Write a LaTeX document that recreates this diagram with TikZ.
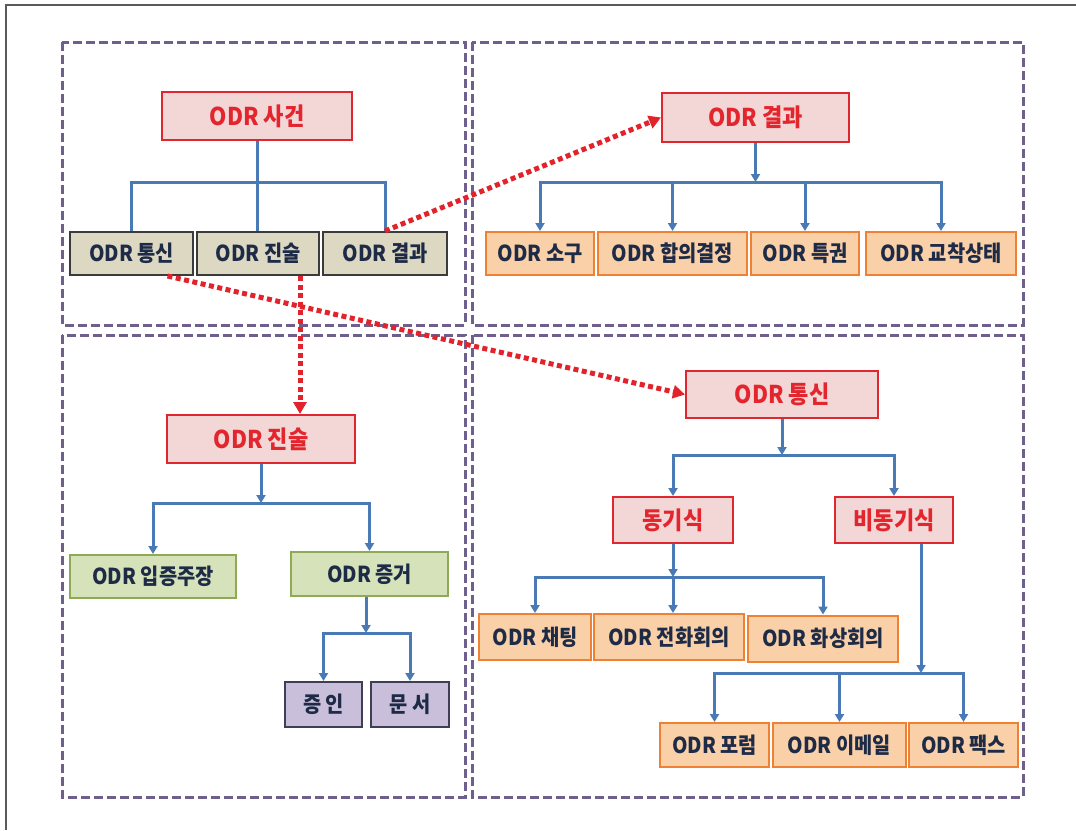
\documentclass[tikz,border=0pt]{standalone}
\usepackage{fontspec}
\setmainfont{Noto Sans CJK KR}[FakeStretch=0.9]
\usetikzlibrary{arrows.meta}
\definecolor{frameline}{HTML}{5A5A5A}
\definecolor{panelline}{HTML}{6E5F8C}
\definecolor{redfill}{HTML}{F3D6D6}
\definecolor{redline}{HTML}{E0262E}
\definecolor{redtext}{HTML}{E3262E}
\definecolor{grayfill}{HTML}{DCD8C2}
\definecolor{grayline}{HTML}{3B3B3B}
\definecolor{orangefill}{HTML}{FAD0A8}
\definecolor{orangeline}{HTML}{EE8133}
\definecolor{greenfill}{HTML}{D6E3BA}
\definecolor{greenline}{HTML}{8FAA55}
\definecolor{purplefill}{HTML}{C9BFDA}
\definecolor{purpleline}{HTML}{3E3E55}
\definecolor{textdark}{HTML}{1E2B47}
\definecolor{blueline}{HTML}{4A7AB5}
\definecolor{dotred}{HTML}{E2232B}
\tikzset{
  base/.style={draw, line width=2pt, inner sep=0pt, text=textdark,
    font=\fontsize{22}{26}\selectfont\bfseries},
  redbox/.style={base, fill=redfill, draw=redline, text=redtext,
    font=\fontsize{24.5}{28}\selectfont\bfseries},
  graybox/.style={base, fill=grayfill, draw=grayline},
  orangebox/.style={base, fill=orangefill, draw=orangeline},
  greenbox/.style={base, fill=greenfill, draw=greenline},
  purplebox/.style={base, fill=purplefill, draw=purpleline},
  panel/.style={draw=panelline, line width=3pt, dash pattern=on 9pt off 4pt},
  tree/.style={draw=blueline, line width=3pt},
  bar/.style={tree, line cap=rect},
  arr/.style={tree, -{Triangle[length=8pt,width=9pt]}},
  dotarr/.style={draw=dotred, line width=5pt, dash pattern=on 5pt off 3.5pt,
    -{Triangle[length=12pt,width=13pt]}},
}
\begin{document}
\begin{tikzpicture}[x=1pt,y=-1pt]
\useasboundingbox (0,0) rectangle (1076,830);
\fill[white] (0,0) rectangle (1076,830);
% outer frame
\draw[frameline, line width=1.5pt] (6,830) -- (6,5) -- (1076,5);

% four dashed panels
\draw[panel] (62,42) rectangle (465,325);
\draw[panel] (472,42) rectangle (1023,325);
\draw[panel] (62,335) rectangle (465,797);
\draw[panel] (472,335) rectangle (1023,797);

% ---- top left: ODR case ----
\node[redbox, minimum width=190pt, minimum height=48pt] (s0) at (257,116) {ODR 사건};
\node[graybox, minimum width=123pt, minimum height=43pt] (g1) at (131.5,253.5) {ODR 통신};
\node[graybox, minimum width=122pt, minimum height=43pt] (g2) at (258,253.5) {ODR 진술};
\node[graybox, minimum width=124pt, minimum height=43pt] (g3) at (385,253.5) {ODR 결과};
\coordinate (tlbar) at (0,182);
\draw[tree] (g1.north) -- (g1.north |- tlbar) -- (g3.north |- tlbar) -- (g3.north);
\draw[tree] (s0.south) -- (s0.south |- g2.north);

% ---- top right: ODR result ----
\node[redbox, minimum width=187pt, minimum height=49pt] (r1) at (755.5,117.5) {ODR 결과};
\node[orangebox, minimum width=108pt, minimum height=43pt] (o1) at (540,253.5) {ODR 소구};
\node[orangebox, minimum width=149pt, minimum height=43pt] (o2) at (672.5,253.5) {ODR 합의결정};
\node[orangebox, minimum width=108pt, minimum height=43pt] (o3) at (805,253.5) {ODR 특권};
\node[orangebox, minimum width=150pt, minimum height=43pt] (o4) at (941,253.5) {ODR 교착상태};
\coordinate (trbar) at (0,182);
\draw[bar] (o1.north |- trbar) -- (o4.north |- trbar);
\draw[arr] (r1.south) -- (r1.south |- trbar);
\foreach \n in {o1,o2,o3,o4} \draw[arr] (\n.north |- trbar) -- (\n.north);

% ---- bottom left: ODR statement ----
\node[redbox, minimum width=188pt, minimum height=48pt] (r2) at (261,439) {ODR 진술};
\node[greenbox, minimum width=166pt, minimum height=43pt] (e1) at (153,576.5) {ODR 입증주장};
\node[greenbox, minimum width=157pt, minimum height=44pt] (e2) at (369.5,574) {ODR 증거};
\node[purplebox, minimum width=77pt, minimum height=45pt] (p1) at (323.5,704.5) {증 인};
\node[purplebox, minimum width=78pt, minimum height=45pt] (p2) at (410,704.5) {문 서};
\coordinate (blbar) at (0,503);
\draw[bar] (e1.north |- blbar) -- (e2.north |- blbar);
\draw[arr] (r2.south) -- (r2.south |- blbar);
\foreach \n in {e1,e2} \draw[arr] (\n.north |- blbar) -- (\n.north);
\coordinate (evbar) at (0,633);
\draw[bar] (p1.north |- evbar) -- (p2.north |- evbar);
\draw[arr] ([xshift=-3.5pt]e2.south) -- ([xshift=-3.5pt]e2.south |- evbar);
\foreach \n in {p1,p2} \draw[arr] (\n.north |- evbar) -- (\n.north);

% ---- bottom right: ODR communication ----
\node[redbox, minimum width=192pt, minimum height=47pt] (r3) at (782,394.5) {ODR 통신};
\node[redbox, minimum width=120pt, minimum height=46pt] (r4) at (673,520) {동기식};
\node[redbox, minimum width=118pt, minimum height=46pt] (r5) at (894,520) {비동기식};
\coordinate (brbar) at (0,455);
\draw[bar] (r4.north |- brbar) -- (r5.north |- brbar);
\draw[arr] (r3.south) -- (r3.south |- brbar);
\foreach \n in {r4,r5} \draw[arr] (\n.north |- brbar) -- (\n.north);

\node[orangebox, minimum width=112pt, minimum height=46pt] (o5) at (535,637) {ODR 채팅};
\node[orangebox, minimum width=150pt, minimum height=46pt] (o6) at (669,637) {ODR 전화회의};
\node[orangebox, minimum width=150pt, minimum height=46pt] (o7) at (823,638.5) {ODR 화상회의};
\coordinate (syncbar) at (0,577);
\draw[bar] (o5.north |- syncbar) -- (o7.north |- syncbar);
\draw[arr] (r4.south) -- (r4.south |- syncbar);
\draw[arr] (o5.north |- syncbar) -- (o5.north);
\draw[arr] (r4.south |- syncbar) -- (r4.south |- o6.north);
\draw[arr] (o7.north |- syncbar) -- (o7.north);

\node[orangebox, minimum width=109pt, minimum height=44pt] (o8) at (714.5,745) {ODR 포럼};
\node[orangebox, minimum width=133pt, minimum height=44pt] (o9) at (839.5,745) {ODR 이메일};
\node[orangebox, minimum width=109pt, minimum height=44pt] (o10) at (963.5,745) {ODR 팩스};
\coordinate (asyncbar) at (0,673);
\draw[bar] (o8.north |- asyncbar) -- (o10.north |- asyncbar);
\draw[arr] ([xshift=27pt]r5.south) -- ([xshift=27pt]r5.south |- asyncbar);
\foreach \n in {o8,o9,o10} \draw[arr] (\n.north |- asyncbar) -- (\n.north);

% ---- dotted links from the case overview to each detail ----
\draw[dotarr] (g3.north) -- (r1.west);
\draw[dotarr] ([xshift=36pt]g1.south) -- (r3.west);
\draw[dotarr] ([xshift=42pt]g2.south) -- ([xshift=42pt]g2.south |- r2.north);
\end{tikzpicture}
\end{document}
